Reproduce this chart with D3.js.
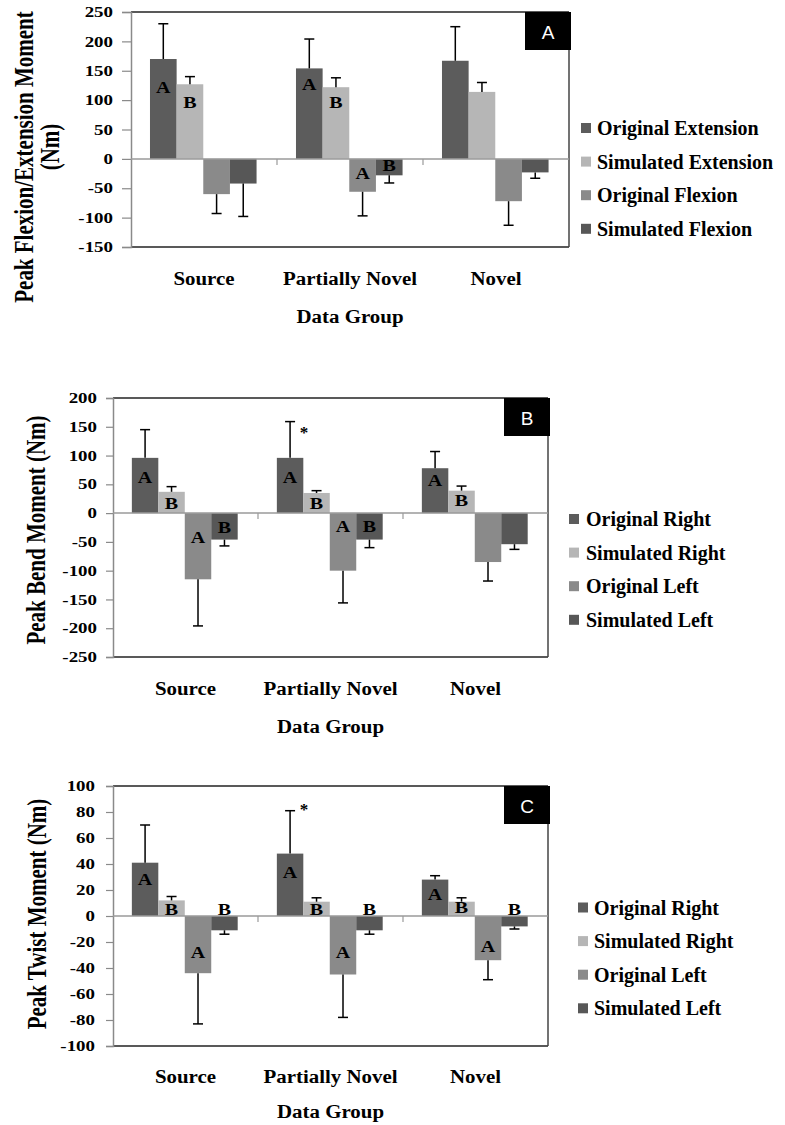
<!DOCTYPE html>
<html lang="en">
<head>
<meta charset="utf-8">
<title>Peak moments by data group</title>
<script src="https://cdn.jsdelivr.net/npm/d3@7"></script>
<style>
  body { margin: 0; background: #fff; }
  svg text { font-family: "Liberation Serif", "Times New Roman", serif; font-weight: bold; fill: #000; }
  svg text.tag { font-family: "Liberation Sans", Arial, sans-serif; font-weight: normal; fill: #fff; }
</style>
</head>
<body>
<script>
// categories and series
var groups = ["Source", "Partially Novel", "Novel"];
var seriesA = ["Original Extension", "Simulated Extension", "Original Flexion", "Simulated Flexion"];
var seriesBC = ["Original Right", "Simulated Right", "Original Left", "Simulated Left"];
var barColors = ["#5c5c5c", "#b6b6b6", "#8a8a8a", "#575757"];

// mean peak moment (Nm), one row per group, one column per series
var flexMean = [[170, 127, -60, -42], [154, 122, -56, -28], [167, 114, -72, -23]];
var flexErr = [[60, 13, 33, 56], [50, 16, 41, 13], [58, 16, 41, 10]];
var bendMean = [[96, 37, -115, -46], [96, 35, -100, -46], [78, 39, -85, -54]];
var bendErr = [[49, 9, 81, 11], [63, 4, 56, 14], [29, 8, 33, 9]];
var twistMean = [[41, 12, -44, -11], [48, 11, -45, -11], [28, 11, -34, -8]];
var twistErr = [[29, 3, 39, 3], [33, 3, 33, 3], [3, 3, 15, 2]];

// letters inside bars: [group, series, letter, height in Nm]
var flexLetters = [[0, 0, "A", 121], [0, 1, "B", 95], [1, 0, "A", 126], [1, 1, "B", 95], [1, 2, "A", -26], [1, 3, "B", -12]];
var bendLetters = [[0, 0, "A", 62], [0, 1, "B", 16], [0, 2, "A", -43], [0, 3, "B", -26],
                   [1, 0, "A", 62], [1, 1, "B", 16], [1, 2, "A", -24], [1, 3, "B", -23],
                   [2, 0, "A", 56], [2, 1, "B", 21]];
var twistLetters = [[0, 0, "A", 28], [0, 1, "B", 5], [0, 2, "A", -28], [0, 3, "B", 5],
                    [1, 0, "A", 33], [1, 1, "B", 5], [1, 2, "A", -28], [1, 3, "B", 5],
                    [2, 0, "A", 16], [2, 1, "B", 6], [2, 2, "A", -24], [2, 3, "B", 5]];
// asterisks: [group, series, height in Nm]
var bendStars = [[1, 0, 146]];
var twistStars = [[1, 0, 85]];

var w = 785, h = 1125;
var svg = d3.select("body").append("svg").attr("width", w).attr("height", h);

var panels = [
  { tag: "A", mean: flexMean, err: flexErr, series: seriesA, letters: flexLetters, stars: [],
    left: 131, right: 569, top: 12, bottom: 247, domain: [-150, 250], step: 50,
    tickLen: 9, labelGap: 18,
    title: ["Peak Flexion/Extension Moment", "(Nm)"], titleX: [33, 59], titleY: [157, 147],
    catY: 285, groupY: 323, legSq: 581, legText: 597, legY: 128 },
  { tag: "B", mean: bendMean, err: bendErr, series: seriesBC, letters: bendLetters, stars: bendStars,
    left: 113, right: 548, top: 398, bottom: 657, domain: [-250, 200], step: 50,
    tickLen: 7, labelGap: 16,
    title: ["Peak Bend Moment (Nm)"], titleX: [45], titleY: [530],
    catY: 695, groupY: 733, legSq: 569, legText: 586, legY: 519 },
  { tag: "C", mean: twistMean, err: twistErr, series: seriesBC, letters: twistLetters, stars: twistStars,
    left: 113, right: 548, top: 786, bottom: 1046, domain: [-100, 100], step: 20,
    tickLen: 7, labelGap: 18,
    title: ["Peak Twist Moment (Nm)"], titleX: [46], titleY: [914],
    catY: 1083, groupY: 1118, legSq: 578, legText: 594, legY: 907.5 }
];

panels.forEach(drawPanel);

function drawPanel(p) {
  var g = svg.append("g");
  var y = d3.scaleLinear().domain(p.domain).range([p.bottom, p.top]);
  var x0 = d3.scaleBand().domain(groups).range([p.left, p.right]);
  var bw = x0.bandwidth();
  var x1 = d3.scaleBand().domain(d3.range(p.series.length)).range([bw * 0.13, bw * 0.86]);
  var barX = function(gi, si) { return x0(groups[gi]) + x1(si); };

  // frame
  g.append("line").attr("x1", p.left).attr("x2", p.right).attr("y1", p.top).attr("y2", p.top)
    .attr("stroke", "#222").attr("stroke-width", 1.5);
  g.append("line").attr("x1", p.left).attr("x2", p.right).attr("y1", p.bottom).attr("y2", p.bottom)
    .attr("stroke", "#222").attr("stroke-width", 1.5);
  g.append("line").attr("x1", p.right).attr("x2", p.right).attr("y1", p.top).attr("y2", p.bottom)
    .attr("stroke", "#444").attr("stroke-width", 1.5);

  // y axis
  var ticks = d3.range(p.domain[0], p.domain[1] + 1, p.step);
  var sx = 1.35;
  var ax = g.append("g").attr("transform", "translate(" + p.left + ",0)")
    .call(d3.axisLeft(y).tickValues(ticks).tickSize(p.tickLen).tickFormat(function(d) { return String(d); }));
  ax.select(".domain").attr("stroke", "#8a8a8a").attr("stroke-width", 1.5);
  ax.selectAll(".tick line").attr("stroke", "#8a8a8a").attr("stroke-width", 1.2);
  ax.selectAll(".tick text")
    .attr("x", -p.labelGap / sx)
    .attr("dy", "0.33em")
    .attr("transform", "scale(" + sx + ",1)")
    .style("font-family", "'Liberation Serif', serif")
    .style("font-weight", "bold")
    .style("font-size", "14px")
    .attr("fill", "#000");

  // bars
  p.mean.forEach(function(row, gi) {
    row.forEach(function(v, si) {
      g.append("rect")
        .attr("x", barX(gi, si))
        .attr("width", x1.bandwidth())
        .attr("y", y(Math.max(0, v)))
        .attr("height", Math.abs(y(v) - y(0)))
        .attr("fill", barColors[si]);
    });
  });

  // zero line and category ticks
  g.append("line").attr("x1", p.left).attr("x2", p.right).attr("y1", y(0)).attr("y2", y(0))
    .attr("stroke", "#9a9a9a").attr("stroke-width", 1.5);
  groups.slice(1).forEach(function(c) {
    g.append("line").attr("x1", x0(c)).attr("x2", x0(c)).attr("y1", y(0)).attr("y2", y(0) + 6)
      .attr("stroke", "#9a9a9a").attr("stroke-width", 1.2);
  });

  // error bars, drawn away from zero
  p.mean.forEach(function(row, gi) {
    row.forEach(function(v, si) {
      var e = p.err[gi][si];
      var end = v >= 0 ? v + e : v - e;
      var cx = barX(gi, si) + x1.bandwidth() / 2;
      g.append("line").attr("x1", cx).attr("x2", cx).attr("y1", y(v)).attr("y2", y(end))
        .attr("stroke", "#000").attr("stroke-width", 1.5);
      g.append("line").attr("x1", cx - 5).attr("x2", cx + 5).attr("y1", y(end)).attr("y2", y(end))
        .attr("stroke", "#000").attr("stroke-width", 1.5);
    });
  });

  // significance letters
  p.letters.forEach(function(d) {
    var cx = barX(d[0], d[1]) + x1.bandwidth() / 2;
    g.append("text")
      .attr("transform", "translate(" + cx + "," + y(d[3]) + ") scale(1.25,1)")
      .attr("text-anchor", "middle")
      .attr("dy", "0.33em")
      .style("font-size", "16px")
      .text(d[2]);
  });
  p.stars.forEach(function(d) {
    var cx = barX(d[0], d[1]) + x1.bandwidth() / 2 + 14;
    g.append("text")
      .attr("x", cx).attr("y", y(d[2]))
      .attr("text-anchor", "middle")
      .attr("dy", "0.55em")
      .style("font-size", "17px")
      .text("*");
  });

  // panel tag
  g.append("rect").attr("x", p.right - 44).attr("y", p.top).attr("width", 46).attr("height", 38)
    .attr("fill", "#000");
  g.append("text").attr("class", "tag")
    .attr("x", p.right - 21).attr("y", p.top + 27)
    .attr("text-anchor", "middle")
    .style("font-size", "19px")
    .text(p.tag);

  // category labels and x title
  groups.forEach(function(c) {
    g.append("text")
      .attr("transform", "translate(" + (x0(c) + bw / 2) + "," + p.catY + ") scale(1.1,1)")
      .attr("text-anchor", "middle")
      .style("font-size", "19px")
      .text(c);
  });
  g.append("text")
    .attr("transform", "translate(" + ((p.left + p.right) / 2) + "," + p.groupY + ") scale(1.1,1)")
    .attr("text-anchor", "middle")
    .style("font-size", "19px")
    .text("Data Group");

  // y title
  p.title.forEach(function(t, i) {
    g.append("text")
      .attr("transform", "translate(" + p.titleX[i] + "," + p.titleY[i] + ") rotate(-90) scale(1,1.3)")
      .attr("text-anchor", "middle")
      .style("font-size", "21px")
      .text(t);
  });

  // legend
  p.series.forEach(function(s, i) {
    var ry = p.legY + i * 33.6;
    g.append("rect").attr("x", p.legSq).attr("y", ry - 5).attr("width", 10).attr("height", 10)
      .attr("fill", barColors[i]);
    g.append("text").attr("x", p.legText).attr("y", ry + 7)
      .style("font-size", "20px")
      .text(s);
  });
}
</script>
</body>
</html>
